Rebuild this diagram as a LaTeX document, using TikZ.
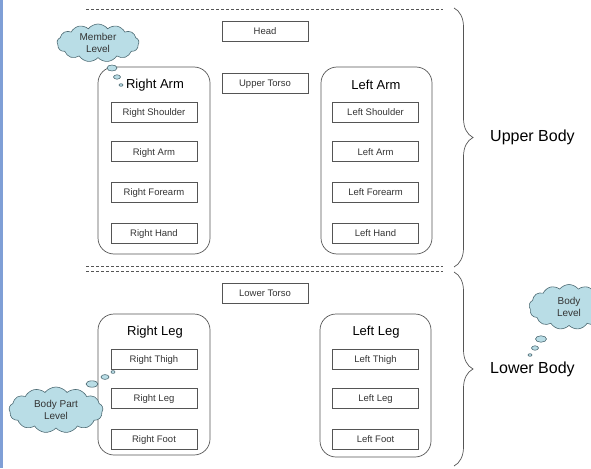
\documentclass[tikz,border=0pt]{standalone}
\usepackage{fontspec}
\setmainfont{Liberation Sans}
\usetikzlibrary{shapes.symbols,decorations.pathreplacing}

\definecolor{linegray}{HTML}{555555}
\definecolor{textgray}{HTML}{333333}
\definecolor{cloudfill}{HTML}{B9DDE6}
\definecolor{cloudline}{HTML}{4D6A73}
\definecolor{sidebar}{HTML}{7F9FD6}

\tikzset{
  partbox/.style={draw=linegray, line width=0.6pt, minimum width=86pt, minimum height=20pt,
    inner sep=0pt, text height=7pt, text depth=0pt,
    font=\fontsize{9.5}{10}\selectfont, text=textgray},
  groupbox/.style={draw=linegray, line width=0.7pt, rounded corners=16pt},
  grouptitle/.style={font=\fontsize{13}{14}\selectfont, text=black, inner sep=0pt},
  bodylabel/.style={font=\fontsize{16}{18}\selectfont, text=black, anchor=west, inner sep=0pt},
  divider/.style={draw=linegray, line width=0.6pt, dash pattern=on 3pt off 2pt},
  bodybrace/.style={draw=linegray, line width=0.7pt, decorate, decoration={brace, amplitude=19pt}},
  thought/.style={cloud, cloud puffs=13, cloud puff arc=105, cloud ignores aspect,
    draw=cloudline, fill=cloudfill, line width=0.6pt, align=center, inner sep=0pt,
    font=\fontsize{10}{12}\selectfont, text=textgray},
  bubble/.style={draw=cloudline, fill=cloudfill, line width=0.6pt}
}

\begin{document}
\begin{tikzpicture}[x=1pt, y=-1pt]
\useasboundingbox (0,0) rectangle (591,468);
\fill[sidebar] (0,0) rectangle (3,468);

% section dividers
\draw[divider] (86,9) coordinate (topL) -- (443,9) coordinate (topR);
\draw[divider] (86,266) coordinate (midLa) -- (443,266) coordinate (midRa);
\draw[divider] (86,271.5) coordinate (midLb) -- (443,271.5) coordinate (midRb);

% torso and head
\node[partbox] (head) at (265,31) {Head};
\node[partbox] (utorso) at (265,83) {Upper Torso};
\node[partbox] (ltorso) at (265,293) {Lower Torso};

% group frames
\draw[groupbox] (98,67) rectangle (210,254);
\draw[groupbox] (321,67) rectangle (432,254);
\draw[groupbox] (98,314) rectangle (210,455);
\draw[groupbox] (320,314) rectangle (431,457);

\node[grouptitle] (tra) at (155,85) {Right Arm};
\node[grouptitle] (tla) at (376,85) {Left Arm};
\node[grouptitle] (trl) at (155,332) {Right Leg};
\node[grouptitle] (tll) at (376,332) {Left Leg};

% arm parts
\node[partbox] (rsh) at (154,112) {Right Shoulder};
\node[partbox] (rarm) at (154,151.5) {Right Arm};
\node[partbox] (rfa) at (154,192) {Right Forearm};
\node[partbox] (rha) at (154,233) {Right Hand};
\node[partbox] (lsh) at (375.5,112) {Left Shoulder};
\node[partbox] (larm) at (375.5,151.5) {Left Arm};
\node[partbox] (lfa) at (375.5,192) {Left Forearm};
\node[partbox] (lha) at (375.5,233) {Left Hand};

% leg parts
\node[partbox] (rth) at (154,359) {Right Thigh};
\node[partbox] (rleg) at (154,398) {Right Leg};
\node[partbox] (rft) at (154,439) {Right Foot};
\node[partbox] (lth) at (375.5,359) {Left Thigh};
\node[partbox] (lleg) at (375.5,398) {Left Leg};
\node[partbox] (lft) at (375.5,439) {Left Foot};

% braces
\coordinate (ubTop) at (454,8);
\coordinate (ubBot) at (454,267);
\coordinate (lbTop) at (454,272);
\coordinate (lbBot) at (454,466);
\draw[bodybrace] (ubTop) -- (ubBot);
\draw[bodybrace] (lbTop) -- (lbBot);
\node[bodylabel] (upper) at (490,137) {Upper Body};
\node[bodylabel] (lower) at (490,369) {Lower Body};

% thought clouds
\node[thought, minimum width=82pt, minimum height=38pt] (member) at (98,43) {Member\\Level};
\draw[bubble] (112,68) ellipse (5pt and 3pt);
\draw[bubble] (117,77) ellipse (3.5pt and 2.2pt);
\draw[bubble] (121,85) ellipse (2pt and 1.3pt);

\node[thought, minimum width=94pt, minimum height=46pt] (bodypart) at (56,410) {Body Part\\Level};
\draw[bubble] (92,384) ellipse (6pt and 3.2pt);
\draw[bubble] (105,377) ellipse (4pt and 2.4pt);
\draw[bubble] (113,372) ellipse (2pt and 1.4pt);

\node[thought, minimum width=80pt, minimum height=45pt] (bodylvl) at (569,307) {Body\\Level};
\draw[bubble] (541,339) ellipse (5.5pt and 3.2pt);
\draw[bubble] (535,348) ellipse (3.5pt and 2.2pt);
\draw[bubble] (530,355) ellipse (2pt and 1.3pt);
\end{tikzpicture}
\end{document}
